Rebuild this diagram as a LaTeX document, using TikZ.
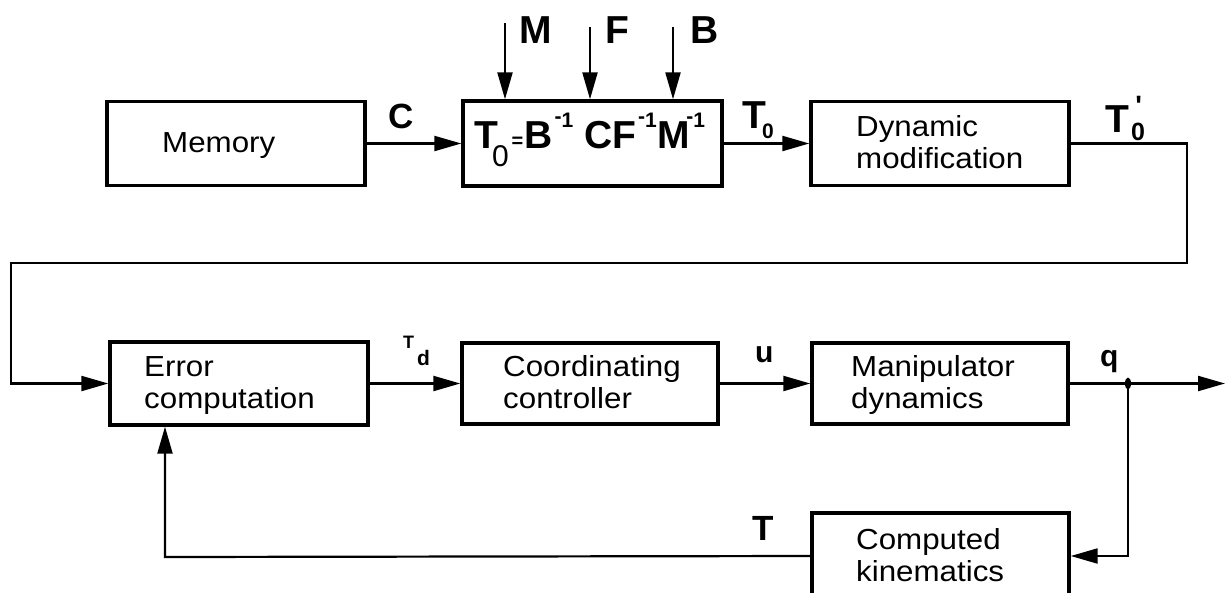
\documentclass[tikz,border=0pt]{standalone}
\usepackage{fontspec}
\setmainfont{Liberation Sans}
\newfontfamily\boxfont{Liberation Sans}[FakeStretch=1.08]
\newfontfamily\labfont{Liberation Sans}[Ligatures=TeXOff]
\usetikzlibrary{arrows.meta}

% superscript "-1" as printed in the transformation formula
\newcommand\invsup{\raisebox{25pt}{\fontsize{21}{21}\selectfont -}\raisebox{21pt}{\fontsize{21}{21}\selectfont 1}}

\begin{document}
\begin{tikzpicture}[x=1pt,y=-1pt,
  block/.style={draw, line width=3.4pt, inner sep=0pt, minimum width=258pt, minimum height=84pt},
  txt/.style={inner sep=0pt, anchor=base west, align=left, font=\fontsize{29}{32}\boxfont},
  sym/.style={inner sep=0pt, anchor=base west, font=\fontsize{39}{39}\labfont\bfseries},
  wire/.style={line width=2.2pt},
  flow/.style={wire, -{Triangle[length=27pt,width=15pt]}}
]
\useasboundingbox (0,0) rectangle (1226,592);

% blocks
\node[block] (mem)   at (236,143.5) {};
\node[block, minimum width=259pt, minimum height=85pt] (form) at (592.5,143.5) {};
\node[block] (dyn)   at (940,143.5) {};
\node[block, minimum height=83pt] (err)   at (239,383.5) {};
\node[block, minimum width=256pt, minimum height=81pt] (coord) at (590,383.5) {};
\node[block, minimum width=256pt, minimum height=81pt] (manip) at (940,383.5) {};
\node[block, minimum width=257pt, minimum height=86pt] (kin)   at (940.5,556) {};

% block texts (anchored on the baseline of their last line)
\node[txt] (memtxt)   at (162,152) {Memory};
\node[txt] (dyntxt)   at (856,168) {Dynamic\\modification};
\node[txt] (errtxt)   at (144,408) {Error\\computation};
\node[txt] (coordtxt) at (503,408) {Coordinating\\controller};
\node[txt] (maniptxt) at (851,408) {Manipulator\\dynamics};
\node[txt] (kintxt)   at (856,581) {Computed\\kinematics};

% transformation formula
\node[sym] (formtxt) at (474,148) {T\kern-6pt\raisebox{-18pt}{\fontsize{30}{30}\selectfont\mdseries 0}\kern3pt\raisebox{1pt}{\fontsize{20}{20}\selectfont =}\kern1pt B\kern2pt\invsup\kern11pt CF\kern2pt\invsup\kern1pt M\kern-4pt\invsup};

% input arrows into the formula block
\coordinate (inM) at (505,23);
\coordinate (inF) at (590,27);
\coordinate (inB) at (673,27);
\draw[flow] (inM) -- (inM |- form.north);
\draw[flow] (inF) -- (inF |- form.north);
\draw[flow] (inB) -- (inB |- form.north);
\node[sym] (labM) at (519,43) {M};
\node[sym] (labF) at (605,43) {F};
\node[sym] (labB) at (690,43) {B};

% forward path, top row
\draw[flow] (mem.east) -- (form.west);
\node[sym, font=\fontsize{35}{35}\labfont\bfseries] (labC) at (388,128) {C};
\draw[flow] (form.east) -- (dyn.west);
\node[sym] (labT0) at (742,128) {T\kern-4pt\raisebox{-10pt}{\fontsize{21}{21}\selectfont 0}};

% link from top row down to the error computation
\coordinate (fbR) at (1187,263);
\coordinate (fbL) at (11,263);
\draw[flow] (dyn.east) -| (fbR) -- (fbL) |- (err.west);
\node[sym] (labT0p) at (1105,132) {T\kern2pt\raisebox{-8pt}{\fontsize{25}{25}\selectfont 0}\kern-9.5pt\raisebox{17pt}{\fontsize{28}{28}\selectfont '}};

% forward path, middle row
\draw[flow] (err.east) -- (coord.west);
\node[sym] (labTd) at (403,348) {\fontsize{18}{18}\selectfont T\kern3pt\raisebox{-17pt}{\fontsize{21}{21}\selectfont d}};
\draw[flow] (coord.east) -- (manip.west);
\node[sym, font=\fontsize{30}{30}\labfont\bfseries] (labu) at (755,362) {u};
\coordinate (jq) at (1128,383.5);
\coordinate (out) at (1225,383.5);
\draw[flow] (manip.east) -- (out);
\node[sym, font=\fontsize{30}{30}\labfont\bfseries] (labq) at (1100,366) {q};
\fill (jq) ellipse [x radius=3pt, y radius=6pt];

% feedback through the kinematics
\draw[flow] (jq) |- (kin.east);
\coordinate (fbB) at (165,557);
\draw[flow] (kin.west) -- (fbB) -- (fbB |- err.south);
\node[sym, font=\fontsize{35}{35}\labfont\bfseries] (labT) at (752,540) {T};
\end{tikzpicture}
\end{document}
